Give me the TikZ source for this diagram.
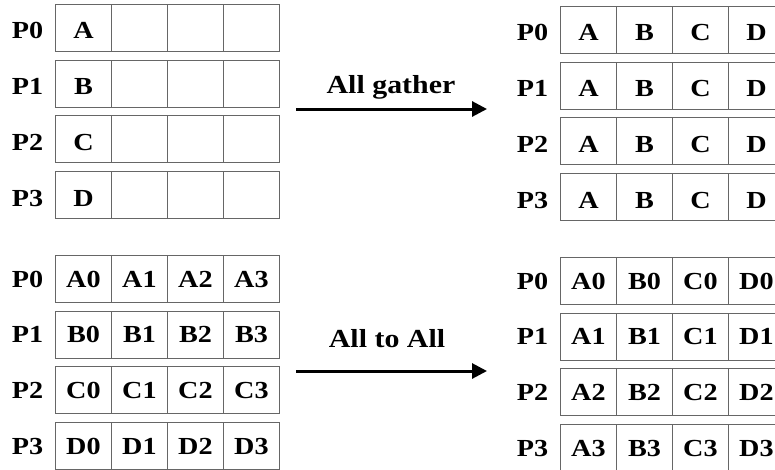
\documentclass[tikz,border=0pt]{standalone}
\usepackage{fontspec}
\setmainfont{Liberation Serif}[FakeStretch=1.15]
\usepackage{tikz}
\usetikzlibrary{matrix,arrows.meta}

\tikzset{
  procs/.style={matrix of nodes, nodes in empty cells,
    column sep={56pt,between origins}, row sep={55.7pt,between origins},
    nodes={draw=black!60, line width=0.9pt, anchor=center, inner sep=0pt,
      minimum width=56pt, minimum height=47pt,
      text height=16.5pt, text depth=0pt,
      font=\fontsize{24.5}{28}\selectfont\bfseries},
    column 1/.style={nodes={draw=none}}},
  lowtext/.style={nodes={text height=22pt}},
  bigarrow/.style={line width=3pt, -{Triangle[length=15pt,width=15pt]}},
  oplabel/.style={anchor=base, font=\fontsize{26}{30}\selectfont\bfseries}
}

\begin{document}
\begin{tikzpicture}[x=1pt,y=-1pt]
  \useasboundingbox (0,0) rectangle (775,469);
  \clip (0,0) rectangle (775,469);

  \matrix (gin) [procs, lowtext, matrix anchor=gin-1-2.north west] at (55,4)
  {
    P0 & A & & & \\
    P1 & B & & & \\
    P2 & C & & & \\
    P3 & D & & & \\
  };
  \matrix (gout) [procs, lowtext, matrix anchor=gout-1-2.north west] at (560,6)
  {
    P0 & A & B & C & D \\
    P1 & A & B & C & D \\
    P2 & A & B & C & D \\
    P3 & A & B & C & D \\
  };

  \matrix (ain) [procs, matrix anchor=ain-1-2.north west] at (55,255)
  {
    P0 & A0 & A1 & A2 & A3 \\
    P1 & B0 & B1 & B2 & B3 \\
    P2 & C0 & C1 & C2 & C3 \\
    P3 & D0 & D1 & D2 & D3 \\
  };
  \matrix (aout) [procs, matrix anchor=aout-1-2.north west] at (560,257)
  {
    P0 & A0 & B0 & C0 & D0 \\
    P1 & A1 & B1 & C1 & D1 \\
    P2 & A2 & B2 & C2 & D2 \\
    P3 & A3 & B3 & C3 & D3 \\
  };

  % the two operations
  \coordinate (ag-from) at (296,109);
  \coordinate (ag-to) at (487,109);
  \draw[bigarrow] (ag-from) -- (ag-to);
  \node[oplabel] (ag-text) at (391,93) {All gather};

  \coordinate (aa-from) at (296,371);
  \coordinate (aa-to) at (487,371);
  \draw[bigarrow] (aa-from) -- (aa-to);
  \node[oplabel] (aa-text) at (387,347) {All to All};
\end{tikzpicture}
\end{document}
